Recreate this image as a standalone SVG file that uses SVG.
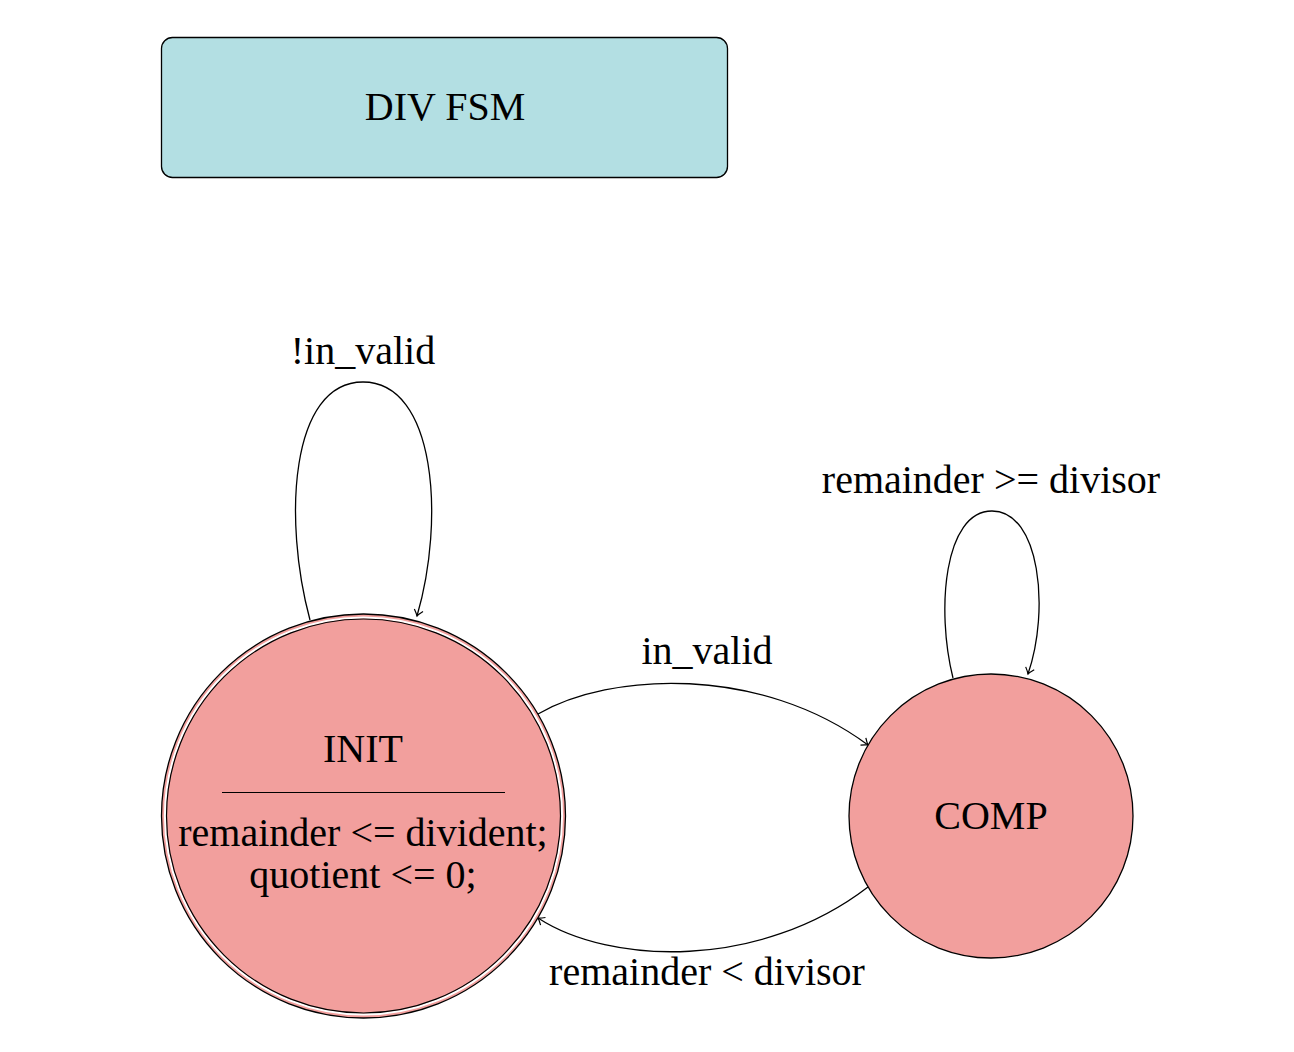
<svg xmlns="http://www.w3.org/2000/svg" width="1294" height="1052" viewBox="0 0 1294 1052">
<style>
  text { font-family: "Liberation Serif", "DejaVu Serif", serif; font-size: 40px; fill: #000; text-anchor: middle; }
  .edge { fill: none; stroke: #000; stroke-width: 1.3; marker-end: url(#arr); }
  .state { fill: #F29F9D; stroke: #000; stroke-width: 1.3; }
</style>
<defs>
  <marker id="arr" viewBox="-8 -6 10 12" markerWidth="10" markerHeight="12" refX="0" refY="0" orient="auto" markerUnits="userSpaceOnUse">
    <path d="M-6,-4.5 Q-2,-1 0,0 Q-2,1 -6,4.5" fill="none" stroke="#000" stroke-width="1.2"/>
  </marker>
</defs>
<rect width="1294" height="1052" fill="#fff"/>
<g id="title">
  <rect x="161.5" y="37.5" width="566" height="140" rx="11" fill="#B3DFE3" stroke="#000" stroke-width="1.3"/>
  <text x="445" y="120">DIV FSM</text>
</g>
<g id="connectors">
  <path class="edge" d="M310,620 C283,520 290,382 363,382 C436,382 445,520 417,616"/>
  <text x="363" y="364">!in_valid</text>
  <path class="edge" d="M953,678 C936,610 944,511 992,511 C1040,511 1050,610 1028,674"/>
  <text x="991" y="493">remainder &gt;= divisor</text>
  <path class="edge" d="M538,714 C610,672 760,665 868,745"/>
  <text x="707" y="664">in_valid</text>
  <path class="edge" d="M868,887 C760,970 610,965 538,918"/>
  <text x="707" y="985">remainder &lt; divisor</text>
</g>
<g id="INIT">
  <circle cx="363.5" cy="816" r="202" class="state"/>
  <circle cx="363.5" cy="816" r="198.5" fill="none" stroke="#fff" stroke-width="2.2"/>
  <circle cx="363.5" cy="816" r="197" fill="none" stroke="#000" stroke-width="1.2"/>
  <text x="363" y="762">INIT</text>
  <line x1="222" y1="792.5" x2="505" y2="792.5" stroke="#000" stroke-width="1"/>
  <text x="363" y="846">remainder &lt;= divident;</text>
  <text x="363" y="888">quotient &lt;= 0;</text>
</g>
<g id="COMP">
  <circle cx="991" cy="816" r="142" class="state"/>
  <text x="991" y="829">COMP</text>
</g>
</svg>
